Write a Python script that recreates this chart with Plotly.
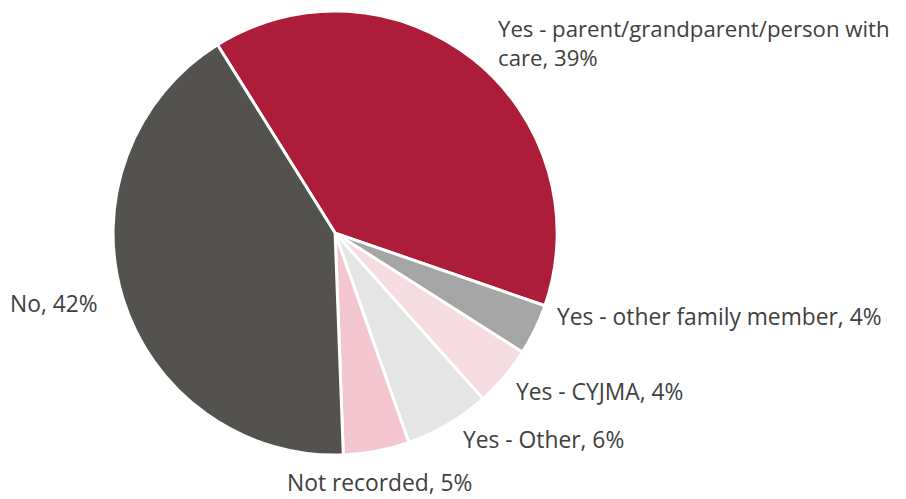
import plotly.graph_objects as go

labels = ["Yes - parent/grandparent/person with<br>care", "Yes - other family member", "Yes - CYJMA",
          "Yes - Other", "Not recorded", "No"]
values = [39.2, 3.7, 4.4, 6.2, 4.8, 41.7]
colors = ["#AD1D3A", "#A5A5A5", "#F6DCE1", "#E5E5E5", "#F4C7D0", "#53524F"]

# label anchor positions (pixels, left edge / vertical middle)
label_pos = [(488, 35), (547, 308), (506, 383), (453, 431), (277, 474), (0, 295)]
label_size = [22.2, 22.8, 22.8, 22.8, 22.8, 22.8]

W, H = 906, 499
total = sum(values)

fig = go.Figure(go.Pie(
    labels=labels, values=values, sort=False, direction="clockwise", rotation=-32,
    marker=dict(colors=colors, line=dict(color="white", width=3)),
    textinfo="none",
    domain=dict(x=[0.1159, 0.6062], y=[0.104, 0.994]),
    showlegend=False, hoverinfo="label+percent",
))
for lab, v, (px, py), fs in zip(labels, values, label_pos, label_size):
    fig.add_annotation(
        x=px / W, y=1 - py / H, xref="paper", yref="paper",
        xanchor="left", yanchor="middle", align="left", showarrow=False,
        text=f"{lab}, {round(v / total * 100)}%",
        font=dict(family="Open Sans", size=fs, color="#404040"),
    )
fig.update_layout(width=W, height=H, margin=dict(l=0, r=0, t=0, b=0),
                  paper_bgcolor="white", plot_bgcolor="white")
fig.write_html("out.html")
